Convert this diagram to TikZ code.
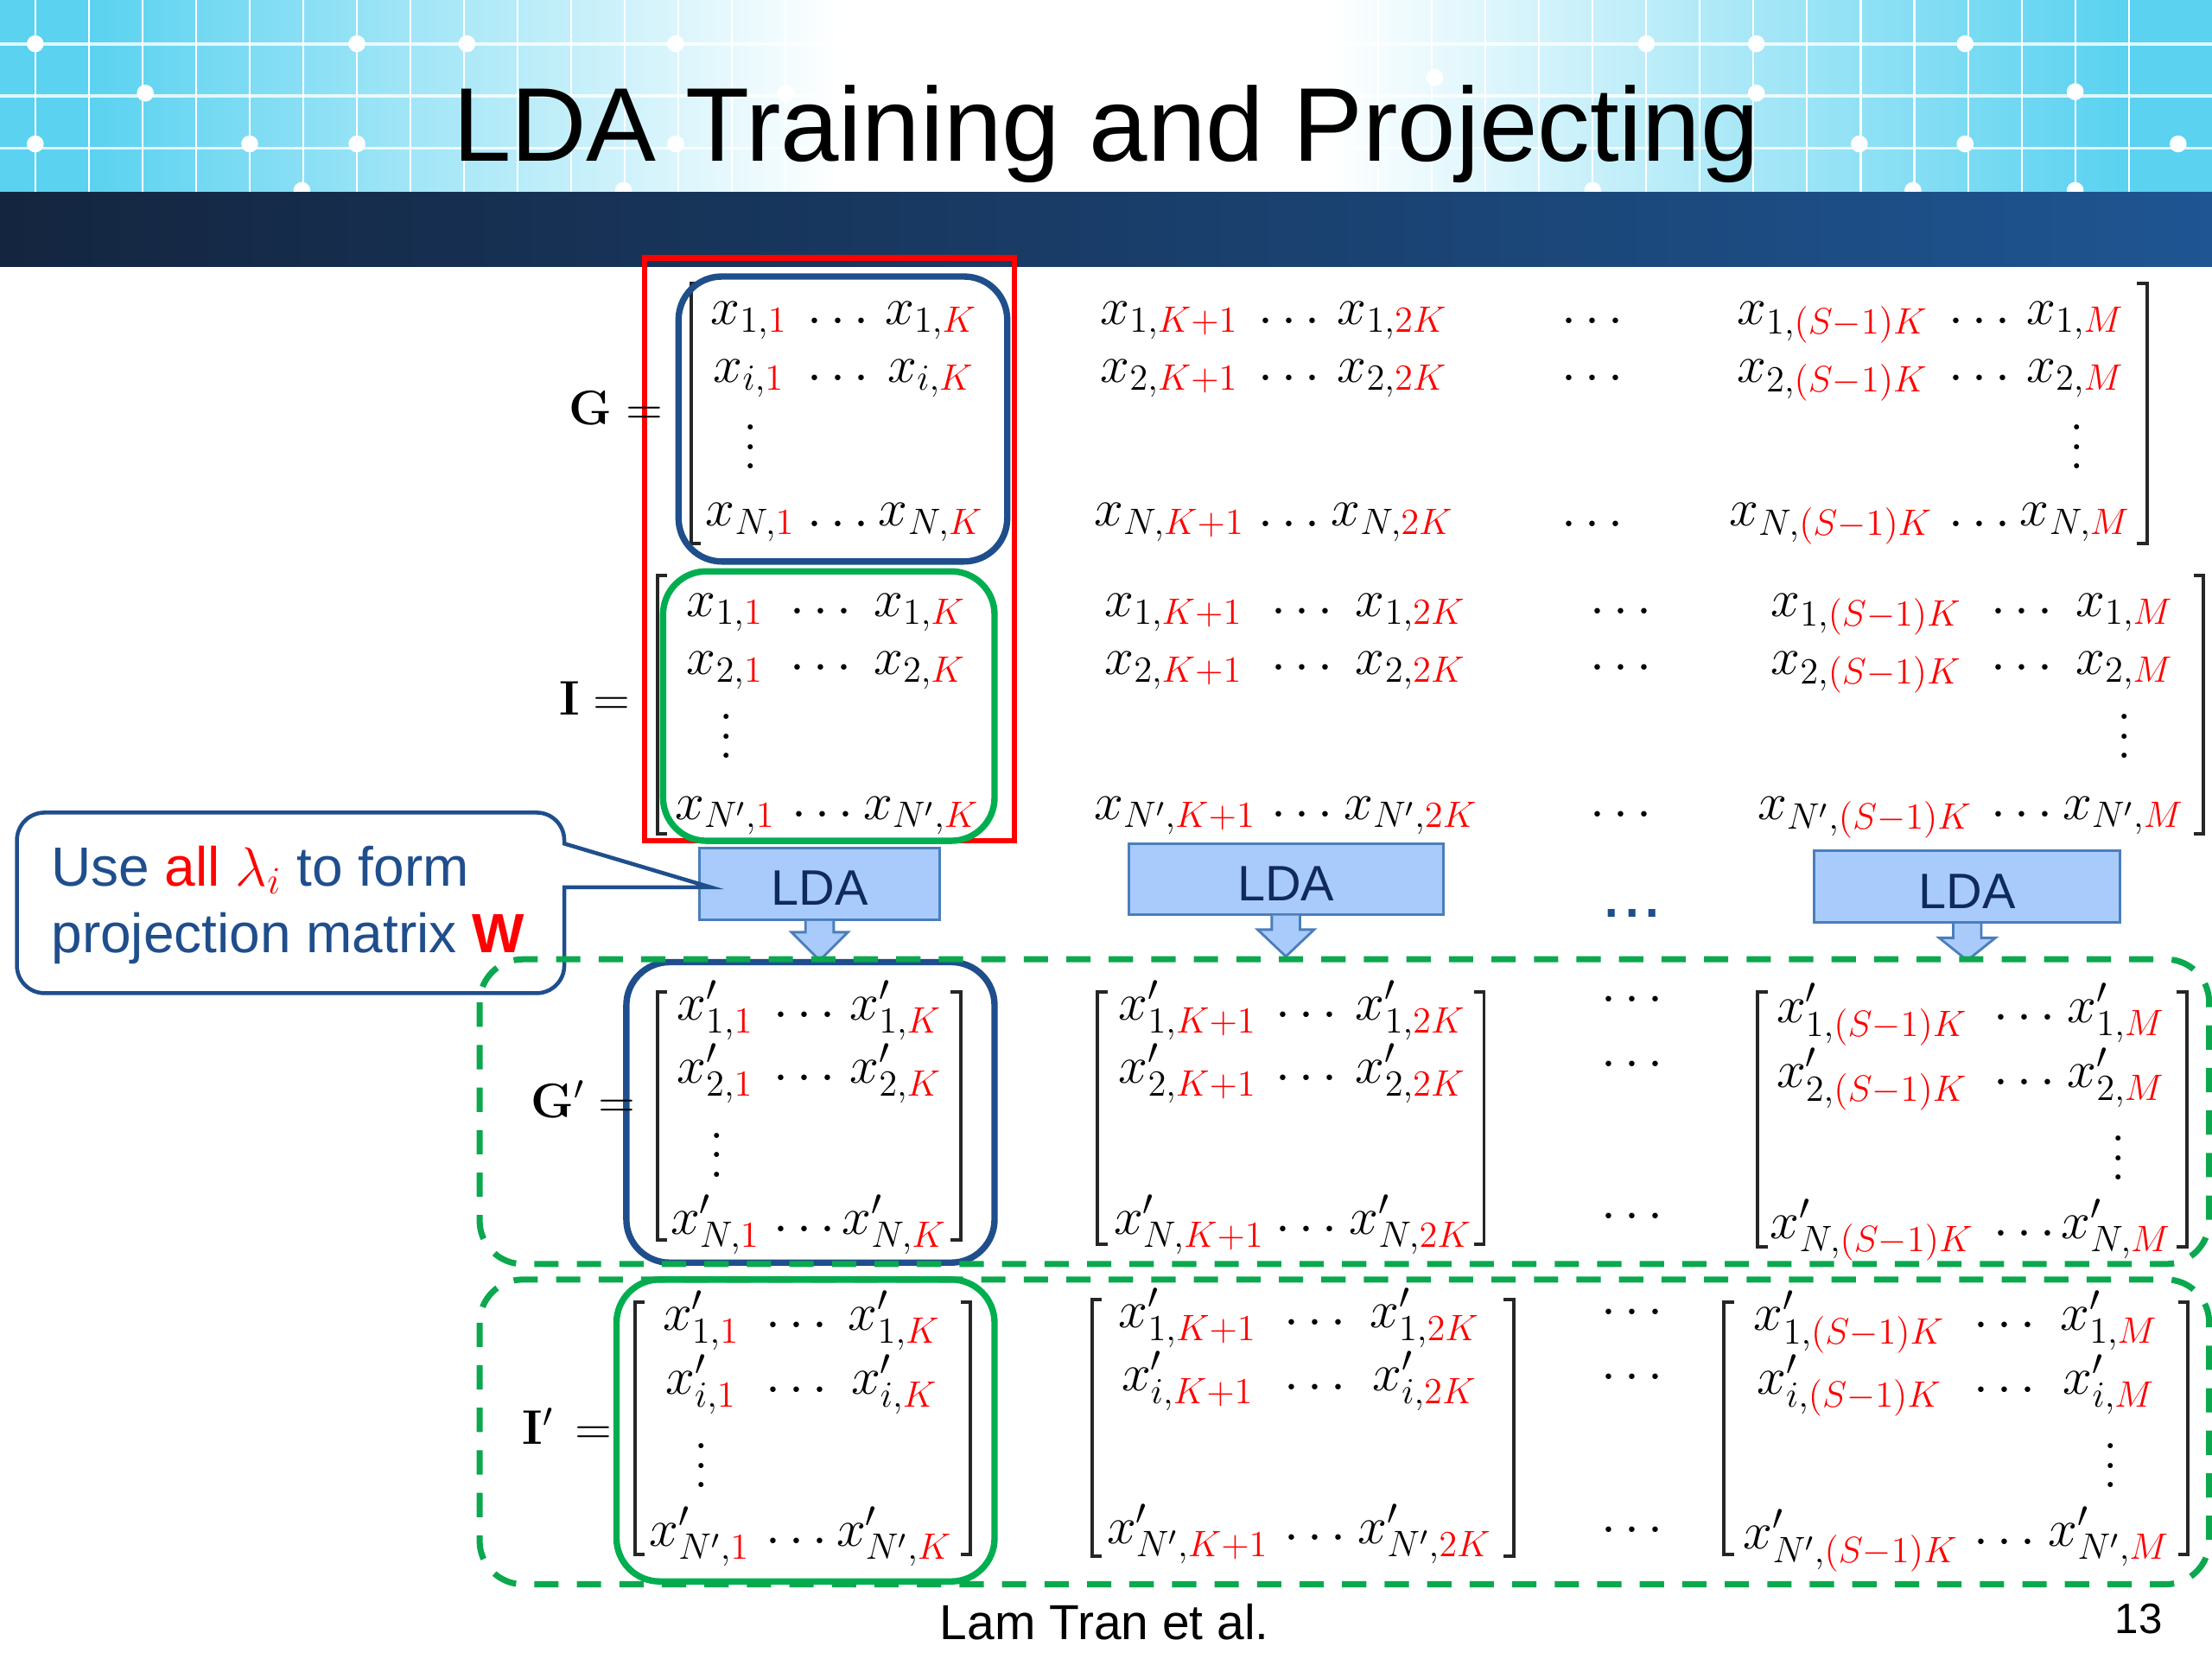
\RequirePackage{fix-cm}
\documentclass[tikz,border=0pt]{standalone}
\usepackage[no-math]{fontspec}
\setmainfont{Liberation Sans}
\usetikzlibrary{calc}
\definecolor{frameblue}{HTML}{1F4E8C}
\definecolor{framegreen}{HTML}{00AE50}
\definecolor{dashgreen}{HTML}{0BA84E}
\definecolor{ldafill}{HTML}{A9CBFB}
\definecolor{ldaline}{HTML}{4A7EBB}
\definecolor{ldatext}{HTML}{10295E}
\definecolor{skycyan}{HTML}{5AD2F0}
\definecolor{banddark}{HTML}{14253F}
\definecolor{bandmid}{HTML}{1A4274}
\definecolor{bandlight}{HTML}{1E5592}
\pgfdeclarehorizontalshading{headersky}{100bp}{color(0bp)=(skycyan); color(27bp)=(skycyan);
  color(44bp)=(white); color(55bp)=(white); color(73bp)=(skycyan); color(100bp)=(skycyan)}
\newcommand{\rd}[1]{{\color{red}#1}}
\newcommand{\xe}[2]{$x_{#1,\rd{#2}}$}
\newcommand{\xp}[2]{$x'_{#1,\rd{#2}}$}
\newcommand{\SK}{(S-1)K}
\newcommand{\wdots}{\vbox{\baselineskip=6.4pt \lineskiplimit=0pt \hbox{$.$}\hbox{$.$}\hbox{$.$}}}
\newcommand{\ldaname}{\raisebox{-2.5mm}[0pt][0pt]{LDA}}
\tikzset{
  x=0.16327mm,y=-0.16327mm,
  cell/.style={anchor=base,inner sep=0pt,font=\fontsize{17.3}{20}\selectfont},
  dotscell/.style={cell,anchor=center,yshift=-0.35mm},
  vdotscell/.style={cell,anchor=center,yshift=-0.15mm},
  eqlabel/.style={cell,anchor=base west,font=\fontsize{16}{19}\selectfont},
  brkt/.style={draw=black!85,line width=1.1pt},
  redframe/.style={draw=red,line width=1.9pt},
  blueframe/.style={draw=frameblue,line width=2.1pt,rounded corners=5mm},
  greenframe/.style={draw=framegreen,line width=2.1pt,rounded corners=5mm},
  dashframe/.style={draw=dashgreen,line width=2pt,rounded corners=5mm,dash pattern=on 8pt off 6pt},
  ldabox/.style={draw=ldaline,fill=ldafill,line width=0.8pt,text=ldatext,font=\fontsize{16.4}{19}\selectfont},
  ldaarrow/.style={draw=ldaline,fill=ldafill,line width=0.8pt,line join=miter},
  callout/.style={draw=frameblue,fill=white,line width=1.3pt},
  callouttext/.style={anchor=base west,inner sep=0pt,text=frameblue,font=\fontsize{18.2}{22}\selectfont},
  plaintext/.style={anchor=base,inner sep=0pt,font=\fontsize{16.2}{19}\selectfont},
}
\begin{document}
\begin{tikzpicture}
  \useasboundingbox (0,0) rectangle (1568,1176);
  % header
  \fill[shading=headersky] (0,0) rectangle (1568,137);
  \foreach \x in {25,63,...,557,939,977,...,1545}
    \draw[white,line width=0.6pt] (\x,0) -- (\x,136);
  \foreach \y in {31,68,105}
    \draw[white,opacity=0.8,line width=1.1pt] (0,\y) -- (1568,\y);
  \foreach \x/\y in {25/31,253/31,331/31,479/31,1167/31,1245/31,1393/31,103/66,557/66,1017/55,1245/66,1471/65,
    25/102,177/102,253/102,479/102,1318/102,1393/102,1544/102,214/135,442/135,1129/135,1356/135,1471/135}
    \fill[white] (\x,\y) circle (6);
  \fill[left color=banddark,middle color=bandmid,right color=bandlight] (0,136) rectangle (1568,189);
  \node[plaintext,font=\fontsize{34.5}{40}\selectfont] (title) at (784,114) {LDA Training and Projecting};

  % brackets
  \foreach \l/\r/\t/\b in {490/1522/201/385,466/1562/408/591,466/681/703/879,778/1052/703/882,
    1246/1550/703/884,450/688/923/1102,774/1073/921/1103,1222/1551/923/1102}{
    \draw[brkt] (\l+7,\t) -- (\l,\t) -- (\l,\b) -- (\l+7,\b);
    \draw[brkt] (\r-7,\t) -- (\r,\t) -- (\r,\b) -- (\r-7,\b);
  }

  % frames of the first block
  \draw[redframe] (457,183) rectangle (719,596);
  \draw[blueframe] (481,196) rectangle (714,398);
  \draw[greenframe] (470,405) rectangle (705,596);
  \draw[blueframe] (444,682) rectangle (705,895);
  \draw[greenframe] (437,907) rectangle (705,1121);

  % G
  \node[eqlabel] (gname) at (403,301) {$\mathbf{G}=$};
  \foreach \nm/\cx/\cy/\tx in {
    ga/531/230/{\xe{1}{1}},gb/660/230/{\xe{1}{K}},gc/829/230/{\xe{1}{K+1}},gd/987/230/{\xe{1}{2K}},
    ge/1299/230/{\xe{1}{\SK}},gf/1471/230/{\xe{1}{M}},
    gg/531/271/{\xe{i}{1}},gh/660/271/{\xe{i}{K}},gi/829/271/{\xe{2}{K+1}},gj/987/271/{\xe{2}{2K}},
    gk/1299/271/{\xe{2}{\SK}},gl/1471/271/{\xe{2}{M}},
    gm/532/373/{\xe{N}{1}},gn/660/373/{\xe{N}{K}},go/829/373/{\xe{N}{K+1}},gp/987/373/{\xe{N}{2K}},
    gq/1298/373/{\xe{N}{\SK}},gr/1471/373/{\xe{N}{M}}}
    \node[cell] (\nm) at (\cx,\cy) {\tx};

  % I
  \node[eqlabel] (iname) at (396,507) {$\mathbf{I}=$};
  \foreach \nm/\cx/\cy/\tx in {
    ia/514/437/{\xe{1}{1}},ib/652/437/{\xe{1}{K}},ic/832/437/{\xe{1}{K+1}},id/1000/437/{\xe{1}{2K}},
    ie/1323/437/{\xe{1}{\SK}},if/1506/437/{\xe{1}{M}},
    ig/514/478/{\xe{2}{1}},ih/652/478/{\xe{2}{K}},ii/832/478/{\xe{2}{K+1}},ij/1000/478/{\xe{2}{2K}},
    ik/1323/478/{\xe{2}{\SK}},il/1506/478/{\xe{2}{M}},
    im/514/581/{\xe{N'}{1}},in/653/581/{\xe{N'}{K}},io/833/581/{\xe{N'}{K+1}},ip/1000/581/{\xe{N'}{2K}},
    iq/1322/581/{\xe{N'}{\SK}},ir/1505/581/{\xe{N'}{M}}}
    \node[cell] (\nm) at (\cx,\cy) {\tx};

  % G prime
  \node[eqlabel] (gpname) at (376,792) {$\mathbf{G}'=$};
  \foreach \nm/\cx/\cy/\tx in {
    pa/507/723/{\xp{1}{1}},pb/635/723/{\xp{1}{K}},pc/842/723/{\xp{1}{K+1}},pd/1000/723/{\xp{1}{2K}},
    pe/1327/725/{\xp{1}{\SK}},pf/1500/725/{\xp{1}{M}},
    pg/507/768/{\xp{2}{1}},ph/635/768/{\xp{2}{K}},pi/842/768/{\xp{2}{K+1}},pj/1000/768/{\xp{2}{2K}},
    pk/1327/771/{\xp{2}{\SK}},pl/1500/771/{\xp{2}{M}},
    pm/507/875/{\xp{N}{1}},pn/634/875/{\xp{N}{K}},po/843/875/{\xp{N}{K+1}},pp/1000/875/{\xp{N}{2K}},
    pq/1327/878/{\xp{N}{\SK}},pr/1500/878/{\xp{N}{M}}}
    \node[cell] (\nm) at (\cx,\cy) {\tx};

  % I prime
  \node[eqlabel] (ipname) at (370,1024) {$\mathbf{I}'\,=$};
  \foreach \nm/\cx/\cy/\tx in {
    qa/497/943/{\xp{1}{1}},qb/634/943/{\xp{1}{K}},qc/842/941/{\xp{1}{K+1}},qd/1010/941/{\xp{1}{2K}},
    qe/1311/943/{\xp{1}{\SK}},qf/1495/943/{\xp{1}{M}},
    qg/497/988/{\xp{i}{1}},qh/634/988/{\xp{i}{K}},qi/842/986/{\xp{i}{K+1}},qj/1010/986/{\xp{i}{2K}},
    qk/1311/988/{\xp{i}{\SK}},ql/1495/988/{\xp{i}{M}},
    qm/496/1096/{\xp{N'}{1}},qn/634/1096/{\xp{N'}{K}},qo/842/1094/{\xp{N'}{K+1}},qp/1010/1094/{\xp{N'}{2K}},
    qq/1312/1098/{\xp{N'}{\SK}},qr/1495/1096/{\xp{N'}{M}}}
    \node[cell] (\nm) at (\cx,\cy) {\tx};

  % dots between the entries
  \foreach \nm/\cx/\cy in {
    da/594/226,db/594/267,dc/594/370,dd/914/226,de/914/267,df/914/370,dg/1129/226,dh/1129/267,di/1129/370,
    dj/1403/226,dk/1403/267,dl/1403/370,
    dm/582/432,dn/582/472,do/583/576,dp/923/432,dq/923/472,dr/923/576,ds/1149/432,dt/1149/472,du/1149/576,
    dv/1433/432,dw/1433/472,dx/1433/576,
    ea/570/718,eb/570/763,ec/570/870,ed/926/718,ee/926/763,ef/926/870,eg/1157/707,eh/1157/753,ei/1157/861,
    ej/1435/720,ek/1435/766,el/1435/873,
    em/565/938,en/565/984,eo/565/1091,ep/932/936,eq/932/982,er/932/1089,es/1157/929,et/1157/975,eu/1157/1083,
    ev/1421/938,ew/1421/984,ex/1421/1092}
    \node[dotscell] (\nm) at (\cx,\cy) {$\cdots$};
  \foreach \nm/\cx/\cy in {va/532/316,vb/1472/316,vc/515/521,vd/1506/521,ve/508/818,vf/1502/820,vg/497/1038,vh/1496/1038}
    \node[vdotscell] (\nm) at (\cx,\cy) {\wdots};

  % LDA blocks
  \node[ldabox,minimum width=27.8mm,minimum height=8.3mm] (lda1) at (581,626.5) {\ldaname};
  \node[ldabox,minimum width=36.4mm,minimum height=8.2mm] (lda2) at (911.5,623) {\ldaname};
  \node[ldabox,minimum width=35.4mm,minimum height=8.3mm] (lda3) at (1394.5,628.5) {\ldaname};
  \foreach \b/\s/\h in {lda1/8/20,lda2/10/19,lda3/10/16}
    \draw[ldaarrow] (\b.south) ++(-10,0) -- ++(0,\s) -- ++(-10,0) -- ++(20,\h) -- ++(20,-\h) -- ++(-10,0) -- ++(0,-\s);
  \node[plaintext,text=frameblue,font=\fontsize{24}{28}\selectfont] (more) at (1157,650) {...};

  % callout
  \draw[callout] (400,598) -- (504,629) -- (400,629) [rounded corners=3.2mm] -- (400,704) -- (12,704) -- (12,576) -- (400,576) [sharp corners] -- cycle;
  \node[callouttext] (usea) at (36,628) {Use \rd{all $\lambda_i$} to form};
  \node[callouttext] (useb) at (36,675) {projection matrix \rd{\textbf{W}}};

  % dashed blocks
  \draw[dashframe] (340,680) rectangle (1566,896);
  \draw[dashframe] (340,907) rectangle (1566,1123);

  % footer
  \node[plaintext] (author) at (783,1162) {Lam Tran et al.};
  \node[plaintext,font=\fontsize{14}{17}\selectfont] (page) at (1516,1158) {13};
\end{tikzpicture}
\end{document}
